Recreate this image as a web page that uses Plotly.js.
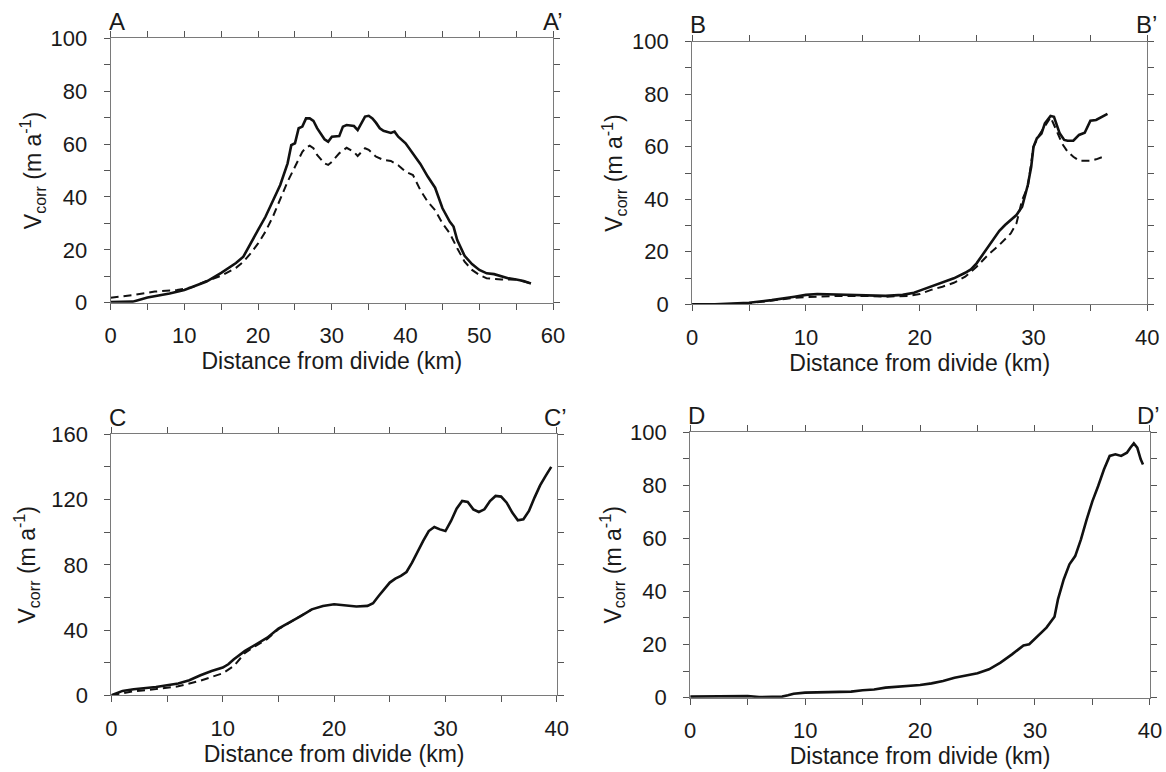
<!DOCTYPE html>
<html>
<head>
<meta charset="utf-8">
<script src="https://cdn.plot.ly/plotly-3.0.1.min.js"></script>
<style>html,body{margin:0;padding:0;background:#fff;}#chart{width:1166px;height:772px;}</style>
</head>
<body>
<div id="chart"></div>
<script>
// ---------- Data ----------
// Panel A
var aSolidX = [0,3,5,8,10,11,13,15,17,18,19,20,21,22,23,24,24.5,25,25.5,26,26.5,27,27.5,28,29,29.5,30,31,31.5,32,33,33.5,34,34.5,35,35.5,36,36.5,37,38,38.5,39,40,41,42,43,44,45,46,46.5,47,48,49,50,51,52,53,54,55,56,57];
var aSolidY = [0.2,0.4,2,3.5,4.8,5.8,8,11.3,15,17.4,22.7,27.5,32.5,38.8,44.5,52.7,59.6,60.3,66,66.6,69.7,69.7,68.8,66,61.8,60.9,62.8,63,66.6,67.2,66.8,65.3,67.8,70.4,70.7,69.7,68,66,65,64.2,64.7,62.8,60.3,56.5,52.5,47.7,43.5,35.7,30.6,28.8,23.7,17.7,14.6,12.4,11.1,10.8,10.1,9.2,8.8,8.2,7.3];
var aDashX = [0,3,6,9,11,13,15,17,18,19,20,21,22,23,24,25,26,26.5,27,27.5,28,29,29.5,30,31,32,33,33.5,34,34.5,35,36,37,38,39,40,41,42,43,44,45,46,47,48,49,50,51,53,55,57];
var aDashY = [1.9,2.9,4.2,4.8,5.8,8.2,10.2,13.2,15.5,18.7,22.4,26.9,32.5,39,45.8,51.4,57.1,58.6,59.4,58.4,55.9,52.7,52.1,53.3,56.5,58.6,57,55.5,57.1,58.4,57.8,55.2,54,53.6,52,49.5,48.3,42.6,38.2,35,30,26.2,20.6,15.5,12.4,10.5,9.2,8.8,8.8,7.3];
// Panel B
var bSolidX = [0,2,5,7,9,10,11,13,15,17,18.5,19.5,20,21,22,23,24,24.5,25,25.5,26,26.5,27,27.5,28,28.5,29,29.5,29.8,30,30.3,30.7,31,31.5,31.8,32,32.3,32.7,33,33.5,34,34.5,35,35.5,36,36.5];
var bSolidY = [0,0,0.6,1.6,2.9,3.6,3.9,3.7,3.6,3.2,3.6,4.4,5.2,6.7,8.2,9.9,12,13.3,15.6,18.8,22,25.1,28,30.2,32.1,34,37.2,45.4,52.4,60,63.2,65,68.9,71.7,71.4,68.9,65.1,62.6,62.3,62.3,64.5,65.3,69.9,70.2,71.4,72.5];
var bDashX = [0,1,3,5,7,9,11,13,15,17,19,20,21,22,23,24,25,26,27,28,28.5,29,29.5,30,30.5,31,31.5,32,32.5,33,33.5,34,35,35.5,36];
var bDashY = [0,-0.6,0,0.4,1.4,2.5,2.9,3.2,3.2,2.9,3.2,3.9,5.5,6.7,8.2,10.5,14.3,18.8,22.6,27,30.8,39.7,44.8,60,64.5,67.9,71.2,66.4,61.3,58.1,56.2,54.7,54.7,55.2,56];
// Panel C
var cSolidX = [0,1,2,4,6,7,8,9,10,10.5,11,12,13,14,15,16,17,18,19,20,21,22,23,23.5,24,25,25.5,26,26.5,27,28,28.5,29,29.5,30,30.5,31,31.5,32,32.5,33,33.5,34,34.5,35,35.5,36,36.5,37,37.5,38,38.5,39,39.5];
var cSolidY = [0,2.7,3.7,5.1,7.2,9.2,12.3,14.9,17,19,22.1,27.2,31.3,35.3,40.9,44.5,48.6,52.7,54.8,55.8,55.2,54.4,54.8,56.4,60.9,69.1,71.5,73.2,75.6,81.3,94.6,100.7,103.2,101.7,100.7,106.9,114.4,119.1,118.5,114,112.4,114,119.1,122.2,121.8,118.1,112,107.3,107.9,113,121.2,128.7,134.5,140];
var cDashX = [0,2,4,6,8,10,11,12,13,14,15,16,17,18];
var cDashY = [0,2.5,3.8,5.5,9,13.5,18,26,30.5,34.5,40.5,44.5,48.6,52.7];
// Panel D
var dSolidX = [0,2,5,6,8,8.5,9,10,12,14,15,16,17,18,19,20,21,22,23,24,25,26,27,28,29,29.5,30,31,31.7,32,32.5,33,33.5,34,34.5,35,35.5,36,36.5,37,37.5,38,38.3,38.6,38.9,39.2,39.4];
var dSolidY = [0.4,0.4,0.6,0.25,0.4,0.9,1.5,1.9,2.1,2.3,2.8,3.1,3.8,4.1,4.6,4.8,5.4,6.3,7.5,8.4,9.2,10.7,13.2,16.3,19.7,20.1,22.2,26.4,30.5,37,44.5,50.2,53.3,59.6,67.1,74,79.7,85.9,91,91.6,91,92.2,94.1,95.7,94.1,89.7,87.8];

var panelLetters = [["A","A\u2019"],["B","B\u2019"],["C","C\u2019"],["D","D\u2019"]];
var xTitle = "Distance from divide (km)";
var yTitle = "V<sub>corr</sub> (m a<sup>-1</sup>)";

// ---------- Layout helpers (pixel boxes) ----------
var W = 1166, H = 772;
var boxes = [
  {l:110.6, r:553.1, t:38.3, b:302.7, xr:[0,60], yr:[0,100], ydt:20, ym:10, ys:2},
  {l:692.1, r:1147.3, t:41.7, b:304.3, xr:[0,40], yr:[0,100], ydt:20, ym:10, ys:2},
  {l:111.4, r:556.8, t:434.3, b:695.3, xr:[0,40], yr:[0,160], ydt:40, ym:20, ys:9},
  {l:690.2, r:1149.9, t:432, b:697.7, xr:[0,40], yr:[0,100], ydt:20, ym:10, ys:2}
];
var FONT = "Liberation Sans, Arial, Helvetica, sans-serif";
var TXT = "#1a1a1a";

function axisBase(extra){
  var o = {
    showline:true, linecolor:"#7a7a7a", linewidth:1, mirror:"ticks",
    ticks:"outside", ticklen:6, tickwidth:1, tickcolor:"#555",
    showgrid:false, zeroline:false, fixedrange:true,
    tickfont:{family:FONT, size:22, color:TXT}
  };
  for (var k in extra) o[k] = extra[k];
  return o;
}

var layout = {
  width:W, height:H, margin:{l:0,r:0,t:0,b:0},
  paper_bgcolor:"#fff", plot_bgcolor:"#fff", showlegend:false,
  font:{family:FONT, color:TXT},
  annotations:[]
};

boxes.forEach(function(bx, i){
  var n = i === 0 ? "" : String(i+1);
  layout["xaxis"+n] = axisBase({
    domain:[bx.l/W, bx.r/W], range:bx.xr, anchor:"y"+n,
    dtick:10, tick0:0, ticklabelstandoff:7,
    minor:{dtick:5, ticks:"outside", ticklen:6, tickcolor:"#555", showgrid:false},
    title:{text:xTitle, standoff:4, font:{family:FONT, size:23, color:TXT}}
  });
  layout["yaxis"+n] = axisBase({
    domain:[1-bx.b/H, 1-bx.t/H], range:bx.yr, anchor:"x"+n,
    dtick:bx.ydt, tick0:0, ticklabelstandoff:12,
    minor:{dtick:bx.ym, ticks:"outside", ticklen:6, tickcolor:"#555", showgrid:false},
    title:{text:yTitle, standoff:bx.ys, font:{family:FONT, size:23, color:TXT}}
  });
  layout.annotations.push({
    text:panelLetters[i][0], xref:"paper", yref:"paper", showarrow:false,
    x:(bx.l-4)/W, y:1-(bx.t-17)/H, xanchor:"left", yanchor:"middle",
    font:{family:FONT, size:24, color:TXT}
  });
  layout.annotations.push({
    text:panelLetters[i][1], xref:"paper", yref:"paper", showarrow:false,
    x:Math.min(bx.r+12, W)/W, y:1-(bx.t-17)/H, xanchor:"right", yanchor:"middle",
    font:{family:FONT, size:24, color:TXT}
  });
});

function solid(x,y,n){ return {x:x,y:y,xaxis:"x"+n,yaxis:"y"+n,mode:"lines",line:{color:"#111",width:2.6},hoverinfo:"skip"}; }
function dashed(x,y,n){ return {x:x,y:y,xaxis:"x"+n,yaxis:"y"+n,mode:"lines",line:{color:"#111",width:2,dash:"8px,5px"},hoverinfo:"skip"}; }

var data = [
  dashed(aDashX,aDashY,""), solid(aSolidX,aSolidY,""),
  dashed(bDashX,bDashY,"2"), solid(bSolidX,bSolidY,"2"),
  dashed(cDashX,cDashY,"3"), solid(cSolidX,cSolidY,"3"),
  solid(dSolidX,dSolidY,"4")
];

Plotly.newPlot("chart", data, layout, {staticPlot:true, displayModeBar:false});
</script>
</body>
</html>
